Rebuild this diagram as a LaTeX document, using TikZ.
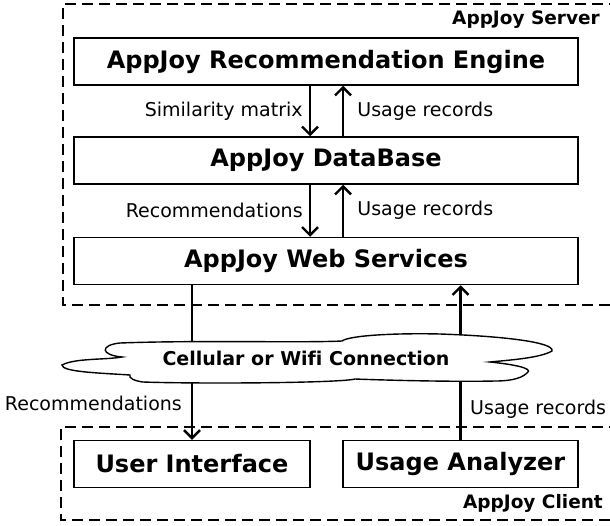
\documentclass[tikz,border=0pt]{standalone}
\usepackage{fontspec}
\setmainfont[Ligatures=NoCommon]{DejaVu Sans}
\usetikzlibrary{arrows.meta}
\tikzset{
    box/.style={draw, line width=1.5pt, fill=white, minimum height=47pt,
        font=\fontsize{24}{28}\selectfont\bfseries},
    group/.style={dashed, dash pattern=on 11pt off 6pt, line width=1.4pt},
    arr/.style={line width=2.7pt, -{Straight Barb[length=8pt,width=16pt,line width=2.4pt]}},
    lbl/.style={font=\fontsize{19}{22}\selectfont},
    title/.style={font=\fontsize{18.5}{22}\selectfont\bfseries, inner sep=0pt}
}
\begin{document}
\begin{tikzpicture}[x=1pt, y=-1pt]
        \useasboundingbox (0,0) rectangle (610,525);
        % containers
        \draw 
            [group] (620,4) -- (63,4) -- (63,305) -- (620,305);
        \draw 
            [group] (620,427) -- (61,427) -- (61,520) -- (620,520);
        \node[title, anchor=east] (server) at (600,20) {AppJoy Server};
        \node[title, anchor=east] (client) at (603,503) {AppJoy Client};
        % server side
        \node[box, minimum width=504pt] (engine) at (326,61.5) {AppJoy Recommendation Engine};
        \node[box, minimum width=504pt] (db) at (326,160.5) {AppJoy DataBase};
        \node[box, minimum width=504pt] (web) at (326,261) {AppJoy Web Services};
        % client side
        \node[box, minimum width=236pt] (ui) at (192,464) {User Interface};
        \node[box, minimum width=235pt] (analyzer) at (460.5,464) {Usage Analyzer};
        % flows inside the server
        \draw 
            [arr] ([xshift=-16pt]engine.south) -- ([xshift=-16pt]db.north)
            node[lbl, midway, anchor=east, inner sep=0pt, xshift=-6pt]{Similarity matrix};
        \draw 
            [arr] ([xshift=17pt]db.north) -- ([xshift=17pt]engine.south)
            node[lbl, midway, anchor=west, inner sep=0pt, xshift=13pt]{Usage records};
        \draw 
            [arr] ([xshift=-16pt]db.south) -- ([xshift=-16pt]web.north)
            node[lbl, midway, anchor=east, inner sep=0pt, xshift=-6pt]{Recommendations};
        \draw 
            [arr] ([xshift=17pt]web.north) -- ([xshift=17pt]db.south)
            node[lbl, midway, anchor=west, inner sep=0pt, xshift=13pt]{Usage records};
        % flows over the network
        \draw 
            [arr] (ui.north |- web.south) -- (ui.north);
        \draw 
            [arr] (analyzer.north) -- (analyzer.north |- web.south);
        \draw 
            [line width=1.4pt, fill=white]
            (62,365) .. controls (75,358) and (105,360) .. (122,357)
            .. controls (100,355) and (100,345) .. (120,343)
            .. controls (200,340) and (300,343) .. (342,341)
            .. controls (350,335) and (400,333) .. (440,334)
            .. controls (500,336) and (555,342) .. (552,351)
            .. controls (540,358) and (510,360) .. (490,362)
            .. controls (510,364) and (535,368) .. (527,373)
            .. controls (520,380) and (505,381) .. (495,381)
            .. controls (450,382) and (380,380) .. (355,379)
            .. controls (340,383) and (200,384) .. (143,382)
            .. controls (135,381) and (128,378) .. (130,375)
            .. controls (100,373) and (62,372) .. cycle;
        \node[title, font=\fontsize{19}{22}\selectfont\bfseries] (net) at (306,358) {Cellular or Wifi Connection};
        \node[lbl, anchor=east, inner sep=0pt] (recv) at (182,403) {Recommendations};
        \node[lbl, anchor=west, inner sep=0pt] (sent) at (470,409) {Usage records};
    \end{tikzpicture}
\end{document}
